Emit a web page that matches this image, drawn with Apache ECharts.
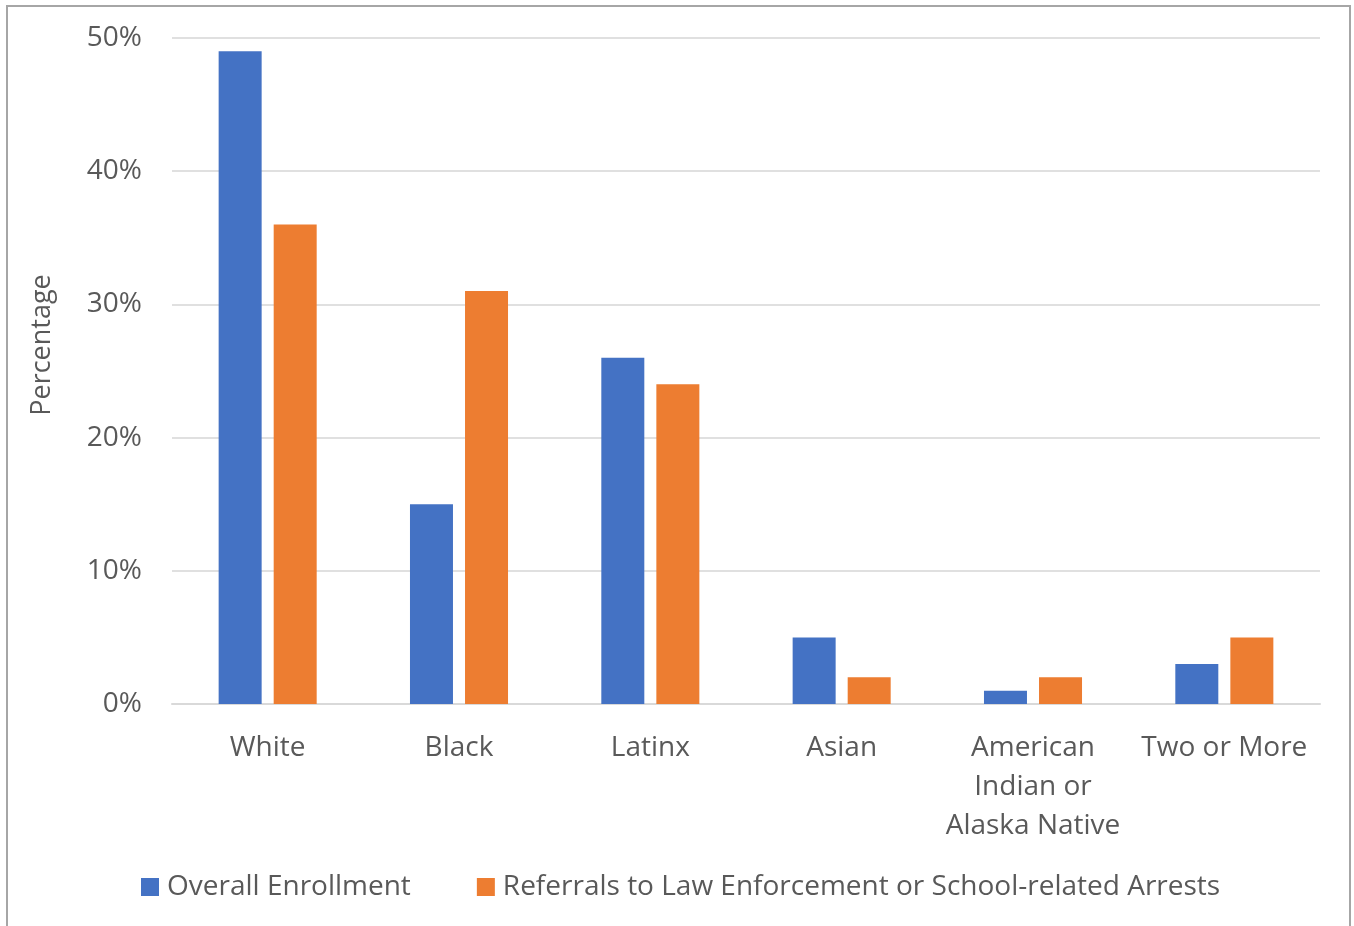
<!DOCTYPE html>
<html>
<head>
<meta charset="utf-8">
<script src="https://cdn.jsdelivr.net/npm/echarts@6/dist/echarts.min.js"></script>
<style>
  html, body { margin: 0; padding: 0; background: #fff; }
  #chart { width: 1354px; height: 926px; }
</style>
</head>
<body>
<div id="chart"></div>
<script>
const categories = ['White', 'Black', 'Latinx', 'Asian', 'American\nIndian or\nAlaska Native', 'Two or More'];
const enrollment = [49, 15, 26, 5, 1, 3];
const referrals = [36, 31, 24, 2, 2, 5];
const seriesNames = ['Overall Enrollment', 'Referrals to Law Enforcement or School-related Arrests'];
const colors = ['#4472c4', '#ed7d31'];

const font = '"Open Sans", sans-serif';
const textGray = '#595959';

let chart = echarts.init(document.getElementById('chart'));
let option = {
  animation: false,
  color: colors,
  textStyle: { fontFamily: font },
  grid: { left: 172, right: 34, top: 38, bottom: 222 },
  legend: {
    left: 136,
    top: 868,
    itemWidth: 18,
    itemHeight: 18,
    itemGap: 66,
    icon: 'rect',
    textStyle: { fontSize: 28, color: textGray, fontFamily: font, padding: [0, 0, 0, 3] },
    data: seriesNames
  },
  graphic: [
    {
      type: 'rect',
      shape: { x: 7, y: 6, width: 1343, height: 940 },
      style: { fill: 'none', stroke: '#a6a6a6', lineWidth: 2 },
      silent: true
    },
    {
      type: 'text',
      x: 42,
      y: 345,
      rotation: Math.PI / 2,
      style: {
        text: 'Percentage',
        fontSize: 27,
        fontFamily: font,
        fill: textGray,
        align: 'center',
        verticalAlign: 'middle'
      }
    }
  ],
  xAxis: {
    type: 'category',
    data: categories,
    axisLine: { lineStyle: { color: '#d9d9d9', width: 2 } },
    axisTick: { show: false },
    axisLabel: {
      fontSize: 28,
      color: textGray,
      fontFamily: font,
      lineHeight: 39,
      margin: 25,
      interval: 0
    }
  },
  yAxis: {
    type: 'value',
    min: 0,
    max: 50,
    interval: 10,
    axisLine: { show: false },
    axisTick: { show: false },
    splitLine: { lineStyle: { color: '#e0e0e0', width: 2 } },
    axisLabel: {
      formatter: '{value}%',
      fontSize: 28,
      color: textGray,
      fontFamily: font,
      margin: 30
    }
  },
  series: [
    {
      name: seriesNames[0],
      type: 'bar',
      data: enrollment,
      barWidth: 43,
      barGap: '28%'
    },
    {
      name: seriesNames[1],
      type: 'bar',
      data: referrals,
      barWidth: 43,
      barGap: '28%'
    }
  ]
};
chart.setOption(option);
</script>
</body>
</html>
